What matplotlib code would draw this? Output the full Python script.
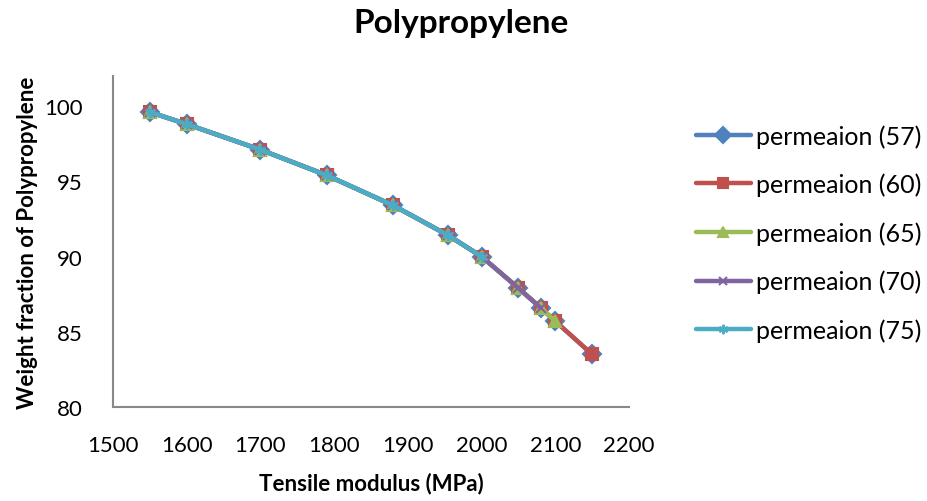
import matplotlib
matplotlib.use("Agg")
import matplotlib.pyplot as plt
import numpy as np

plt.rcParams['font.family'] = ['Lato', 'DejaVu Sans']

# tensile modulus (MPa) and weight fraction of PP for each permeation series
modulus = [1550, 1600, 1700, 1790, 1880, 1955, 2000, 2050, 2080, 2100, 2150]
fraction = [99.6, 98.8, 97.1, 95.4, 93.4, 91.4, 90.0, 87.9, 86.6, 85.7, 83.5]

labels = ['permeaion (57)', 'permeaion (60)', 'permeaion (65)',
          'permeaion (70)', 'permeaion (75)']
n_points = [11, 11, 10, 9, 7]   # how many points each series reaches
colors = ['#4F81BD', '#C0504D', '#9BBB59', '#8064A2', '#4BACC6']
markers = ['D', 's', '^', 'x', (6, 2, 0)]
msizes = [9, 8, 8, 7, 8]

fig = plt.figure(figsize=(9.28, 5.02), dpi=100)
ax = fig.add_axes([113/928, 1-408/502, (629-113)/928, (408-77)/502])

for lab, n, c, m, ms in zip(labels, n_points, colors, markers, msizes):
    ax.plot(modulus[:n], fraction[:n], color=c, lw=3.2, marker=m,
            markersize=ms, markeredgewidth=1.5, label=lab,
            solid_capstyle='round')

ax.set_xlim(1500, 2200)
ax.set_ylim(80, 102)
ax.set_xticks(np.arange(1500, 2201, 100))
ax.set_yticks(np.arange(80, 101, 5))
ax.tick_params(length=0, labelsize=16)
ax.tick_params(axis='x', pad=20)
ax.tick_params(axis='y', pad=22)
for s in ['top', 'right']:
    ax.spines[s].set_visible(False)
for s in ['left', 'bottom']:
    ax.spines[s].set_color('#888888')
    ax.spines[s].set_linewidth(1.5)

ax.set_xlabel('Tensile modulus (MPa)', fontsize=16, fontweight='bold', labelpad=12)
ax.set_ylabel('Weight fraction of Polypropylene', fontsize=16, fontweight='bold', labelpad=4)
fig.text(461/928, 1-24/502, 'Polypropylene', fontsize=24, fontweight='bold',
         ha='center', va='center')

leg = fig.legend(loc='upper left', bbox_to_anchor=(696/928, 1-125/502), frameon=False,
                 fontsize=18, handlelength=2.2, handletextpad=0.2, labelspacing=1.0,
                 borderaxespad=0, borderpad=0, markerscale=0.85)

fig.savefig('out.png', dpi=100)
